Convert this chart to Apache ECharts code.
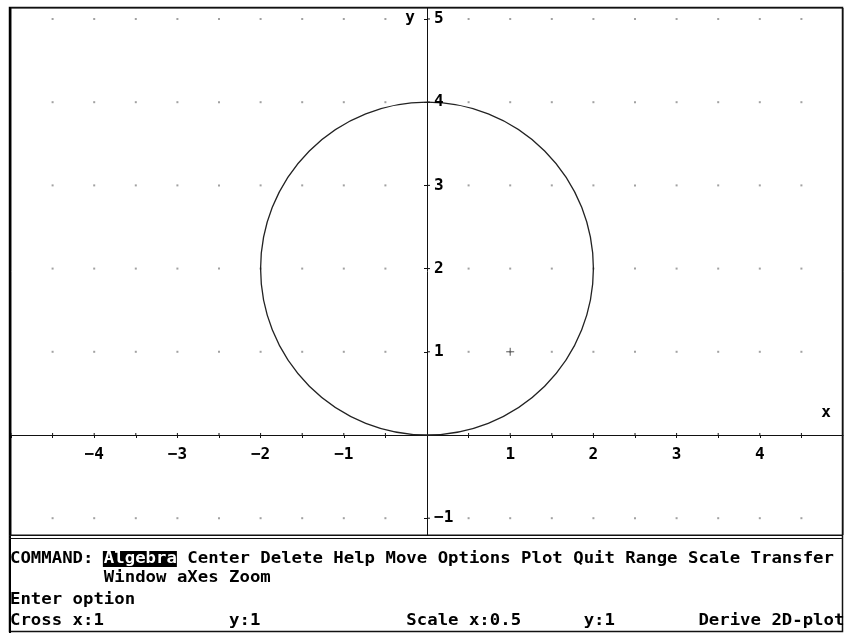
<!DOCTYPE html>
<html>
<head>
<meta charset="utf-8">
<script src="https://cdn.jsdelivr.net/npm/echarts@6/dist/echarts.min.js"></script>
<style>
  html, body { margin: 0; padding: 0; background: #fff; }
  #chart { width: 845px; height: 633px; }
</style>
</head>
<body>
<div id="chart"></div>
<script>
// Plot window extents (x from -5 to 5, y from about -1.2 to 5.13)
const xRange = [-5, 5];
const yRange = [-1.202, 5.132];

// Tick marks along x every 0.5, labels at whole units
const xTickValues = [-5, -4.5, -4, -3.5, -3, -2.5, -2, -1.5, -1, -0.5, 0.5, 1, 1.5, 2, 2.5, 3, 3.5, 4, 4.5];
const xLabelValues = [-4, -3, -2, -1, 1, 2, 3, 4];
const yTickValues = [-1, 1, 2, 3, 4, 5];
const yLabelValues = [-1, 1, 2, 3, 4, 5];

// Background dot lattice
const dotXs = [-5, -4.5, -4, -3.5, -3, -2.5, -2, -1.5, -1, -0.5, 0.5, 1, 1.5, 2, 2.5, 3, 3.5, 4, 4.5];
const dotYs = [-1, 1, 2, 3, 4, 5];

// Plotted circle: centre (0, 2), radius 2
const circleCenter = [0, 2];
const circleRadius = 2;

// Cross-hair cursor position
const cursorPoint = [1, 1];

// Status / menu lines: [column, text]
const menuLine1 = [[0, 'COMMAND:'], [9, 'Algebra'], [17, 'Center'], [24, 'Delete'], [31, 'Help'], [36, 'Move'],
  [41, 'Options'], [49, 'Plot'], [54, 'Quit'], [59, 'Range'], [65, 'Scale'], [71, 'Transfer']];
const menuLine2 = [[9, 'Window'], [16, 'aXes'], [21, 'Zoom']];
const menuLine3 = [[0, 'Enter'], [6, 'option']];
const menuLine4 = [[0, 'Cross'], [6, 'x:1'], [21, 'y:1'], [38, 'Scale'], [44, 'x:0.5'], [55, 'y:1'], [66, 'Derive'], [73, '2D-plot']];

const MONO = '"DejaVu Sans Mono", "Liberation Mono", monospace';
const COL0 = 10, COLW = 10.43, SCALE_X = COLW / 9.03;
const LABEL_FONT = 'bold 16px ' + MONO;

const dotData = [];
dotYs.forEach(y => dotXs.forEach(x => dotData.push([x, y])));

function textRow(items, y) {
  return items.map(([col, str]) => ({
    type: 'text',
    x: COL0 + col * COLW,
    y: y,
    scaleX: SCALE_X,
    z: 20,
    style: {
      text: str,
      font: 'bold 15px ' + MONO,
      fill: str === 'Algebra' ? '#fff' : '#000',
      textVerticalAlign: 'middle'
    }
  }));
}

const minusFmt = v => String(v).replace('-', '\u2212');

const chart = echarts.init(document.getElementById('chart'), null, { renderer: 'canvas' });

chart.setOption({
  backgroundColor: '#fff',
  animation: false,
  grid: {
    left: 11, right: 2, top: 8, bottom: 98,
    show: true, borderColor: '#111', borderWidth: 1, backgroundColor: 'transparent'
  },
  xAxis: {
    type: 'value',
    min: xRange[0], max: xRange[1],
    axisLine: { onZero: true, lineStyle: { color: '#111', width: 1 } },
    axisTick: { show: true, length: 3, customValues: xTickValues, lineStyle: { color: '#111' } },
    axisLabel: { show: false },
    splitLine: { show: false }
  },
  yAxis: {
    type: 'value',
    min: yRange[0], max: yRange[1],
    axisLine: { onZero: true, lineStyle: { color: '#111', width: 1 } },
    axisTick: { show: true, length: 3, customValues: yTickValues, lineStyle: { color: '#111' } },
    axisLabel: { show: false },
    splitLine: { show: false }
  },
  series: [
    {
      type: 'scatter',
      data: dotData,
      symbol: 'rect',
      symbolSize: 2,
      itemStyle: { color: '#8a8a8a' },
      silent: true,
      z: 1
    },
    {
      // tick marks on the other side of each axis, so they cross the line
      type: 'custom',
      data: xTickValues.map(v => [v, 0]).concat(yTickValues.map(v => [0, v])),
      renderItem: function (params, api) {
        const vx = api.value(0), vy = api.value(1);
        const p = api.coord([vx, vy]);
        const onX = vy === 0;
        return {
          type: 'line',
          shape: onX ? { x1: p[0], y1: p[1], x2: p[0], y2: p[1] - 2 } : { x1: p[0], y1: p[1], x2: p[0] + 3, y2: p[1] },
          style: { stroke: '#111', lineWidth: 1 }
        };
      },
      silent: true,
      z: 4
    },
    {
      // x tick labels, hung just below the x axis
      type: 'custom',
      data: xLabelValues.map(v => [v, 0]),
      renderItem: function (params, api) {
        const p = api.coord([api.value(0), api.value(1)]);
        return {
          type: 'text',
          x: p[0], y: p[1] + 20,
          style: { text: minusFmt(api.value(0)), font: LABEL_FONT, fill: '#000', textAlign: 'center', textVerticalAlign: 'middle' }
        };
      },
      silent: true,
      z: 5
    },
    {
      // y tick labels, to the right of the y axis
      type: 'custom',
      data: yLabelValues.map(v => [0, v]),
      renderItem: function (params, api) {
        const p = api.coord([api.value(0), api.value(1)]);
        return {
          type: 'text',
          x: p[0] + 7, y: p[1],
          style: { text: minusFmt(api.value(1)), font: LABEL_FONT, fill: '#000', textAlign: 'left', textVerticalAlign: 'middle' }
        };
      },
      silent: true,
      z: 5
    },
    {
      type: 'custom',
      data: [[circleCenter[0], circleCenter[1], circleRadius]],
      renderItem: function (params, api) {
        const c = api.coord([api.value(0), api.value(1)]);
        const s = api.size([api.value(2), api.value(2)]);
        const r = (s[0] + s[1]) / 2;
        return {
          type: 'circle',
          shape: { cx: c[0], cy: c[1], r: r },
          style: { fill: 'none', stroke: '#222', lineWidth: 1.3 }
        };
      },
      silent: true,
      z: 3
    },
    {
      type: 'custom',
      data: [cursorPoint],
      renderItem: function (params, api) {
        const p = api.coord([api.value(0), api.value(1)]);
        const st = { stroke: '#555', lineWidth: 1 };
        return {
          type: 'group',
          children: [
            { type: 'line', shape: { x1: p[0] - 4, y1: p[1], x2: p[0] + 4, y2: p[1] }, style: st },
            { type: 'line', shape: { x1: p[0], y1: p[1] - 4, x2: p[0], y2: p[1] + 4 }, style: st }
          ]
        };
      },
      silent: true,
      z: 3
    }
  ],
  graphic: [
    // axis names
    { type: 'text', x: 826, y: 413, z: 20, style: { text: 'x', font: LABEL_FONT, fill: '#000', textAlign: 'center', textVerticalAlign: 'middle' } },
    { type: 'text', x: 410, y: 18, z: 20, style: { text: 'y', font: LABEL_FONT, fill: '#000', textAlign: 'center', textVerticalAlign: 'middle' } },
    // outer frame and divider
    { type: 'rect', z: 15, shape: { x: 9.5, y: 7.5, width: 833, height: 624 }, style: { fill: 'none', stroke: '#111', lineWidth: 1.5 } },
    { type: 'rect', z: 15, shape: { x: 9, y: 7, width: 2, height: 626 }, style: { fill: '#000' } },
    { type: 'line', z: 15, shape: { x1: 9, y1: 535.5, x2: 843, y2: 535.5 }, style: { stroke: '#111', lineWidth: 1 } },
    { type: 'line', z: 15, shape: { x1: 9, y1: 538.5, x2: 843, y2: 538.5 }, style: { stroke: '#111', lineWidth: 1 } },
    // selected menu item highlight
    { type: 'rect', z: 18, shape: { x: COL0 + 9 * COLW - 1, y: 551, width: 7 * COLW + 1, height: 16 }, style: { fill: '#000' } },
    ...textRow(menuLine1, 559),
    ...textRow(menuLine2, 578),
    ...textRow(menuLine3, 600),
    ...textRow(menuLine4, 621)
  ]
});
</script>
</body>
</html>
